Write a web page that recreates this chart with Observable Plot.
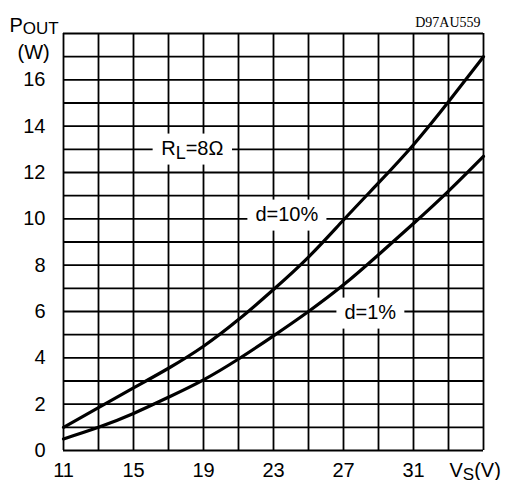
<!DOCTYPE html>
<html><head><meta charset="utf-8">
<script src="https://cdn.jsdelivr.net/npm/d3@7"></script>
<script src="https://cdn.jsdelivr.net/npm/@observablehq/plot@0.6"></script>
<style>
html,body{margin:0;padding:0;background:#fff;}
</style>
</head><body><div id="chart"></div>
<script>
// Supply voltage Vs (V)
const vs = [11, 13, 15, 17, 19, 21, 23, 25, 27, 29, 31, 33, 35];
// Output power (W) at d = 10 %
const pout10 = [1.0, 1.85, 2.7, 3.55, 4.5, 5.65, 6.95, 8.35, 9.95, 11.55, 13.2, 15.05, 17.0];
// Output power (W) at d = 1 %
const pout1 = [0.5, 1.0, 1.6, 2.3, 3.05, 3.95, 4.95, 6.0, 7.15, 8.45, 9.8, 11.2, 12.7];

const xGrid = [11, 13, 15, 17, 19, 21, 23, 25, 27, 29, 31, 33, 35];
const yGrid = [0, 1, 2, 3, 4, 5, 6, 7, 8, 9, 10, 11, 12, 13, 14, 15, 16, 17, 18];
const xTickLabels = [11, 15, 19, 23, 27, 31];
const yTickLabels = [0, 2, 4, 6, 8, 10, 12, 14, 16];

const labelText = ["RL=8Ω", "d=10%", "d=1%"];
const labelX = [18.36, 23.76, 28.53];
const labelY = [13.05, 10.2, 5.97];

const rows10 = vs.map((v, i) => ({vs: v, p: pout10[i]}));
const rows1 = vs.map((v, i) => ({vs: v, p: pout1[i]}));
const labels = labelText.map((t, i) => ({text: t, x: labelX[i], y: labelY[i]}));

const svg = Plot.plot({
  width: 512, height: 480,
  marginLeft: 63, marginRight: 29, marginTop: 33, marginBottom: 30,
  style: {fontFamily: "'Liberation Sans', Arial, Helvetica, sans-serif", fontSize: "20px", color: "black", background: "white", overflow: "visible"},
  x: {domain: [11, 35], ticks: xTickLabels, tickSize: 0, tickPadding: 12, label: null},
  y: {domain: [0, 18], ticks: yTickLabels, tickSize: 0, tickPadding: 18, label: null},
  marks: [
    Plot.ruleX(xGrid, {stroke: "black", strokeWidth: 1.8}),
    Plot.ruleY(yGrid, {stroke: "black", strokeWidth: 1.8}),
    Plot.line(rows10, {x: "vs", y: "p", curve: "natural", stroke: "black", strokeWidth: 3.2}),
    Plot.line(rows1, {x: "vs", y: "p", curve: "natural", stroke: "black", strokeWidth: 3.2}),
    Plot.text(labels, {x: "x", y: "y", text: "text", textAnchor: "middle", fill: "black", fontSize: 20}),
    Plot.text(["POUT"], {frameAnchor: "top-left", textAnchor: "start", lineAnchor: "bottom", dx: -54, dy: -2, fill: "black", fontSize: 20}),
    Plot.text(["(W)"], {frameAnchor: "top-left", textAnchor: "start", lineAnchor: "bottom", dx: -46, dy: 25, fill: "black", fontSize: 20}),
    Plot.text(["VS(V)"], {frameAnchor: "bottom-right", textAnchor: "start", lineAnchor: "bottom", dx: -34, dy: 26, fill: "black", fontSize: 20}),
    Plot.text(["D97AU559"], {frameAnchor: "top-right", textAnchor: "end", lineAnchor: "bottom", dx: -3, dy: -7, fill: "black", fontSize: 14, fontFamily: "'Liberation Serif', 'Times New Roman', serif"})
  ]
});
document.getElementById("chart").appendChild(svg);

const root = d3.select(svg);
// white boxes behind in-plot labels
root.selectAll("text").filter(function() { return labelText.includes(this.textContent); }).each(function() {
  const b = this.getBBox();
  const padX = 8, padY = 3;
  const r = document.createElementNS("http://www.w3.org/2000/svg", "rect");
  r.setAttribute("x", b.x - padX);
  r.setAttribute("y", b.y - padY);
  r.setAttribute("width", b.width + 2 * padX);
  r.setAttribute("height", b.height + 2 * padY + 3);
  r.setAttribute("fill", "white");
  const tr = this.getAttribute("transform");
  if (tr) r.setAttribute("transform", tr);
  this.parentNode.insertBefore(r, this);
});

// subscripts
function styled(full, parts) {
  root.selectAll("text").filter(function() { return this.textContent === full; }).each(function() {
    const t = d3.select(this);
    t.text(null);
    parts.forEach(([s, fs, dy]) => {
      const ts = t.append("tspan").text(s);
      if (fs) ts.attr("font-size", fs);
      if (dy) ts.attr("dy", dy);
    });
  });
}
styled("POUT", [["P"], ["OUT", 17, 2]]);
styled("RL=8Ω", [["R"], ["L", 18, 4], ["=8Ω", 20, -4]]);
styled("VS(V)", [["V"], ["S", 17, 3], ["(V)", 20, -3]]);
</script>
</body></html>
